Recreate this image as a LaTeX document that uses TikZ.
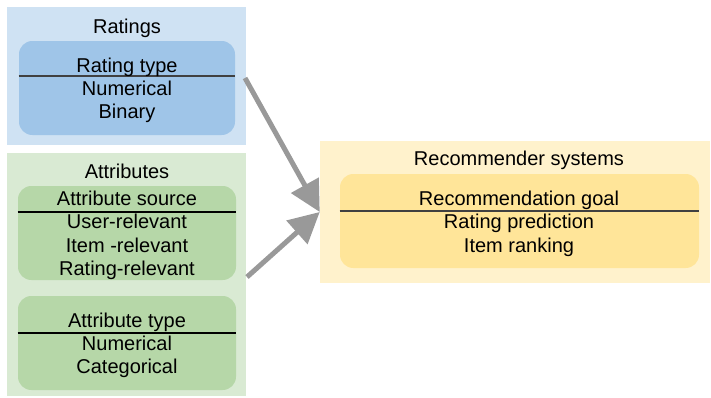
\documentclass[tikz,border=0pt]{standalone}
\usepackage{fontspec}
\setmainfont{Liberation Sans}
\usetikzlibrary{arrows.meta}
\definecolor{bOut}{HTML}{CFE2F3}
\definecolor{bIn}{HTML}{9FC5E8}
\definecolor{gOut}{HTML}{D9EAD3}
\definecolor{gIn}{HTML}{B6D7A8}
\definecolor{yOut}{HTML}{FFF2CC}
\definecolor{yIn}{HTML}{FFE599}
\definecolor{arr}{HTML}{999999}
\tikzset{
  outerbox/.style={draw=none, inner sep=0pt, minimum width=#1},
  innerbox/.style={draw=none, inner sep=0pt, rounded corners=10pt, minimum width=#1, minimum height=70.5pt},
  lbl/.style={anchor=base, inner sep=0pt, font=\fontsize{15pt}{18pt}\selectfont},
  divider/.style={line width=0.8pt, draw=black!75},
  bigarrow/.style={draw=arr, line width=3.75pt, -{Triangle[length=23pt,width=23pt]}, shorten >=0pt}
}
\begin{document}
\begin{tikzpicture}[x=0.75pt, y=-0.75pt]
\useasboundingbox (0,0) rectangle (711,397);
% outer panels
\node[outerbox=179.25pt, minimum height=103.5pt, fill=bOut] (ratings) at (126.5,76) {};
\node[outerbox=179.25pt, minimum height=182.25pt, fill=gOut] (attrs) at (126.5,274.5) {};
\node[outerbox=292.5pt, minimum height=106.5pt, fill=yOut] (rec) at (515,212) {};
% inner boxes
\node[innerbox=162pt, fill=bIn] (rtype) at (127,88) {};
\node[innerbox=163.5pt, fill=gIn] (asrc) at (127,233) {};
\node[innerbox=163.5pt, fill=gIn] (atype) at (127,343) {};
\node[innerbox=269.25pt, fill=yIn] (goal) at (519.5,221) {};
% dividers
\coordinate (d1) at (0,76);
\coordinate (d2) at (0,212);
\coordinate (d3) at (0,333);
\coordinate (d4) at (0,211);
\draw[divider] (rtype.west |- d1) -- (rtype.east |- d1);
\draw[divider, draw=black] (asrc.west |- d2) -- (asrc.east |- d2);
\draw[divider, draw=black] (atype.west |- d3) -- (atype.east |- d3);
\draw[divider] (goal.west |- d4) -- (goal.east |- d4);
% texts
\node[lbl] (t1) at (127,33) {Ratings};
\node[lbl] (t2) at (127,72) {Rating type};
\node[lbl] (t3) at (127,95) {Numerical};
\node[lbl] (t4) at (127,118) {Binary};
\node[lbl] (t5) at (127,178) {Attributes};
\node[lbl] (t6) at (127,205) {Attribute source};
\node[lbl] (t7) at (127,228) {User-relevant};
\node[lbl] (t8) at (127,252) {Item -relevant};
\node[lbl] (t9) at (127,275) {Rating-relevant};
\node[lbl] (t10) at (127,327) {Attribute type};
\node[lbl] (t11) at (127,350) {Numerical};
\node[lbl] (t12) at (127,373) {Categorical};
\node[lbl] (t13) at (519,165) {Recommender systems};
\node[lbl] (t14) at (519,205) {Recommendation goal};
\node[lbl] (t15) at (519,228) {Rating prediction};
\node[lbl] (t16) at (519,252) {Item ranking};
% arrows
\coordinate (a1) at (245,78);
\coordinate (a2) at (247,277);
\draw[bigarrow] (a1) -- (rec.west);
\draw[bigarrow] (a2) -- (rec.west);
\end{tikzpicture}
\end{document}
